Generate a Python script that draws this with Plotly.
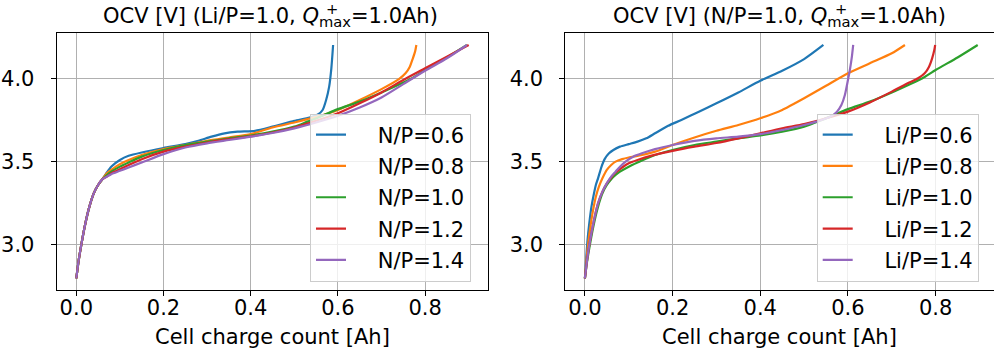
import plotly.graph_objects as go

# ---------------- data ----------------
# Left panel: Li/P = 1.0, varying N/P
np_labels = ["N/P=0.6", "N/P=0.8", "N/P=1.0", "N/P=1.2", "N/P=1.4"]

start_x = [0, 0.005, 0.01, 0.02, 0.03, 0.04, 0.05, 0.06]
start_y = [2.8, 2.90, 2.98, 3.12, 3.23, 3.31, 3.36, 3.395]

np06_x = start_x + [0.07, 0.08, 0.10, 0.12, 0.15, 0.20, 0.25, 0.28, 0.31, 0.34, 0.37, 0.41, 0.45, 0.50, 0.535, 0.555, 0.565, 0.573, 0.58, 0.585, 0.589]
np06_y = start_y + [3.435, 3.47, 3.51, 3.535, 3.555, 3.582, 3.605, 3.625, 3.65, 3.67, 3.68, 3.685, 3.71, 3.745, 3.765, 3.785, 3.81, 3.87, 3.95, 4.06, 4.2]

np08_x = start_x + [0.07, 0.08, 0.10, 0.12, 0.15, 0.20, 0.25, 0.30, 0.35, 0.40, 0.45, 0.50, 0.53, 0.56, 0.60, 0.65, 0.70, 0.74, 0.755, 0.765, 0.772, 0.777, 0.78]
np08_y = start_y + [3.43, 3.45, 3.485, 3.51, 3.54, 3.575, 3.60, 3.625, 3.645, 3.665, 3.705, 3.735, 3.755, 3.775, 3.81, 3.87, 3.935, 3.995, 4.03, 4.07, 4.12, 4.16, 4.2]

np10_x = start_x + [0.07, 0.08, 0.10, 0.12, 0.15, 0.20, 0.25, 0.30, 0.35, 0.40, 0.45, 0.50, 0.53, 0.56, 0.60, 0.65, 0.70, 0.75, 0.77, 0.80, 0.85, 0.896]
np10_y = start_y + [3.42, 3.44, 3.47, 3.495, 3.53, 3.57, 3.60, 3.62, 3.64, 3.657, 3.68, 3.71, 3.74, 3.77, 3.815, 3.86, 3.915, 3.975, 4.0, 4.05, 4.125, 4.2]

np12_x = start_x + [0.07, 0.08, 0.10, 0.12, 0.15, 0.20, 0.25, 0.30, 0.35, 0.40, 0.45, 0.50, 0.55, 0.60, 0.65, 0.70, 0.75, 0.80, 0.85, 0.90]
np12_y = start_y + [3.41, 3.43, 3.455, 3.48, 3.515, 3.56, 3.59, 3.615, 3.635, 3.652, 3.675, 3.705, 3.745, 3.79, 3.85, 3.915, 3.99, 4.06, 4.13, 4.2]

np14_x = start_x + [0.07, 0.08, 0.10, 0.12, 0.15, 0.20, 0.25, 0.30, 0.35, 0.40, 0.45, 0.50, 0.55, 0.60, 0.65, 0.70, 0.75, 0.80, 0.85, 0.896]
np14_y = start_y + [3.41, 3.425, 3.445, 3.465, 3.495, 3.545, 3.585, 3.61, 3.63, 3.65, 3.672, 3.70, 3.735, 3.775, 3.825, 3.885, 3.965, 4.045, 4.12, 4.2]

# Right panel: N/P = 1.0, varying Li/P
lip_labels = ["Li/P=0.6", "Li/P=0.8", "Li/P=1.0", "Li/P=1.2", "Li/P=1.4"]

lp06_x = [0, 0.003, 0.006, 0.01, 0.015, 0.02, 0.025, 0.03, 0.038, 0.045, 0.055, 0.065, 0.08, 0.10, 0.12, 0.14, 0.16, 0.19, 0.22, 0.26, 0.30, 0.35, 0.40, 0.45, 0.50, 0.544]
lp06_y = [2.8, 2.92, 3.03, 3.13, 3.23, 3.30, 3.36, 3.40, 3.47, 3.515, 3.55, 3.57, 3.59, 3.605, 3.62, 3.64, 3.67, 3.715, 3.75, 3.80, 3.85, 3.915, 3.985, 4.045, 4.115, 4.2]

lp08_x = [0, 0.004, 0.008, 0.012, 0.018, 0.025, 0.032, 0.04, 0.05, 0.06, 0.07, 0.085, 0.10, 0.13, 0.16, 0.20, 0.25, 0.30, 0.35, 0.40, 0.45, 0.50, 0.55, 0.60, 0.65, 0.70, 0.73]
lp08_y = [2.8, 2.92, 3.02, 3.10, 3.20, 3.29, 3.35, 3.40, 3.45, 3.48, 3.50, 3.515, 3.525, 3.54, 3.56, 3.60, 3.645, 3.685, 3.72, 3.76, 3.81, 3.88, 3.955, 4.03, 4.09, 4.15, 4.2]

lp10_x = np10_x
lp10_y = np10_y

lp12_x = [0, 0.005, 0.01, 0.02, 0.03, 0.04, 0.05, 0.06, 0.07, 0.085, 0.10, 0.12, 0.15, 0.20, 0.25, 0.30, 0.35, 0.40, 0.45, 0.50, 0.55, 0.60, 0.65, 0.70, 0.74, 0.76, 0.775, 0.785, 0.792, 0.797, 0.799]
lp12_y = [2.8, 2.91, 3.0, 3.14, 3.25, 3.32, 3.37, 3.405, 3.435, 3.465, 3.49, 3.51, 3.535, 3.565, 3.59, 3.612, 3.64, 3.67, 3.70, 3.725, 3.76, 3.80, 3.855, 3.92, 3.975, 4.0, 4.03, 4.07, 4.12, 4.17, 4.2]

lp14_x = [0, 0.005, 0.01, 0.02, 0.03, 0.04, 0.05, 0.06, 0.07, 0.08, 0.095, 0.11, 0.13, 0.16, 0.20, 0.25, 0.30, 0.35, 0.40, 0.45, 0.50, 0.54, 0.56, 0.575, 0.585, 0.593, 0.60, 0.605, 0.609, 0.612]
lp14_y = [2.8, 2.91, 3.0, 3.14, 3.25, 3.32, 3.37, 3.41, 3.44, 3.47, 3.505, 3.53, 3.55, 3.575, 3.60, 3.625, 3.64, 3.65, 3.665, 3.69, 3.72, 3.75, 3.77, 3.80, 3.84, 3.90, 3.99, 4.06, 4.13, 4.2]

x_ticks = [0.0, 0.2, 0.4, 0.6, 0.8]
x_ticktext = ["0.0", "0.2", "0.4", "0.6", "0.8"]
y_ticks = [3.0, 3.5, 4.0]
y_ticktext = ["3.0", "3.5", "4.0"]

colors = ["#1f77b4", "#ff7f0e", "#2ca02c", "#d62728", "#9467bd"]

left_series = [(np06_x, np06_y), (np08_x, np08_y), (np10_x, np10_y), (np12_x, np12_y), (np14_x, np14_y)]
right_series = [(lp06_x, lp06_y), (lp08_x, lp08_y), (lp10_x, lp10_y), (lp12_x, lp12_y), (lp14_x, lp14_y)]

FONT = "DejaVu Sans"
FS = 21
W, H = 994, 354
PAD = "\u00a0\u00a0\u00a0\u00a0"  # gap between legend line and its text

fig = go.Figure()
for i, ((xs, ys), name) in enumerate(zip(left_series, np_labels)):
    fig.add_trace(go.Scatter(x=xs, y=ys, mode="lines", name=PAD + name,
                             line=dict(color=colors[i], width=2.2, shape="spline", smoothing=0.6),
                             xaxis="x", yaxis="y", legend="legend", legendgroup="a%d" % i))
for i, ((xs, ys), name) in enumerate(zip(right_series, lip_labels)):
    fig.add_trace(go.Scatter(x=xs, y=ys, mode="lines", name=PAD + name,
                             line=dict(color=colors[i], width=2.2, shape="spline", smoothing=0.6),
                             xaxis="x2", yaxis="y2", legend="legend2", legendgroup="b%d" % i))

def px_x(p):
    return p / W

def px_y(p):
    return 1 - p / H

axis_common = dict(showline=True, mirror=True, linecolor="black", linewidth=1.1,
                   ticks="outside", ticklen=5, tickwidth=1.1, tickcolor="black",
                   showgrid=True, gridcolor="#b0b0b0", gridwidth=1, zeroline=False,
                   tickfont=dict(family=FONT, size=FS, color="black"))

y_dom = [px_y(290), px_y(33.3)]
legend_common = dict(xanchor="left", yanchor="top",
                     bgcolor="rgba(255,255,255,0.8)", bordercolor="#cccccc", borderwidth=1,
                     font=dict(family=FONT, size=FS), tracegroupgap=1)
fig.update_layout(
    width=W, height=H, margin=dict(l=0, r=0, t=0, b=0),
    paper_bgcolor="white", plot_bgcolor="white",
    font=dict(family=FONT, size=FS, color="black"),
    xaxis=dict(domain=[px_x(56.7), px_x(488.3)], range=[-0.045, 0.945],
               tickvals=x_ticks, ticktext=x_ticktext, anchor="y", ticklabelstandoff=-6, **axis_common),
    yaxis=dict(domain=y_dom, range=[2.73, 4.27], tickvals=y_ticks, ticktext=y_ticktext,
               anchor="x", ticklabelstandoff=12, **axis_common),
    xaxis2=dict(domain=[px_x(565.3), px_x(993.5)], range=[-0.0447, 0.932],
                tickvals=x_ticks, ticktext=x_ticktext, anchor="y2", ticklabelstandoff=-6, **axis_common),
    yaxis2=dict(domain=y_dom, range=[2.73, 4.27], tickvals=y_ticks, ticktext=y_ticktext,
                anchor="x2", ticklabelstandoff=12, **axis_common),
    legend=dict(x=px_x(310), y=px_y(113.5), **legend_common),
    legend2=dict(x=px_x(816.7), y=px_y(113.5), **legend_common),
    showlegend=True,
)

ann = []
# axis labels
for cx in [(56.7 + 488.3) / 2, (565.3 + 993.5) / 2]:
    ann.append(dict(text="Cell charge count [Ah]", x=px_x(cx), y=px_y(337), xref="paper", yref="paper",
                    xanchor="center", yanchor="middle", showarrow=False,
                    font=dict(family=FONT, size=FS, color="black")))
# titles
titles = [("OCV [V] (Li/P=1.0, <i>Q</i><sub>max</sub>=1.0Ah)", 270.5, 331.5),
          ("OCV [V] (N/P=1.0, <i>Q</i><sub>max</sub>=1.0Ah)", 779.5, 840.5)]
for txt, cx, plus_x in titles:
    ann.append(dict(text=txt, x=px_x(cx), y=px_y(17), xref="paper", yref="paper",
                    xanchor="center", yanchor="middle", showarrow=False,
                    font=dict(family=FONT, size=FS, color="black")))
    ann.append(dict(text="+", x=px_x(plus_x), y=px_y(8.5), xref="paper", yref="paper",
                    xanchor="center", yanchor="middle", showarrow=False,
                    font=dict(family=FONT, size=FS * 0.7, color="black")))
fig.update_layout(annotations=ann)

fig.write_html("out.html")
